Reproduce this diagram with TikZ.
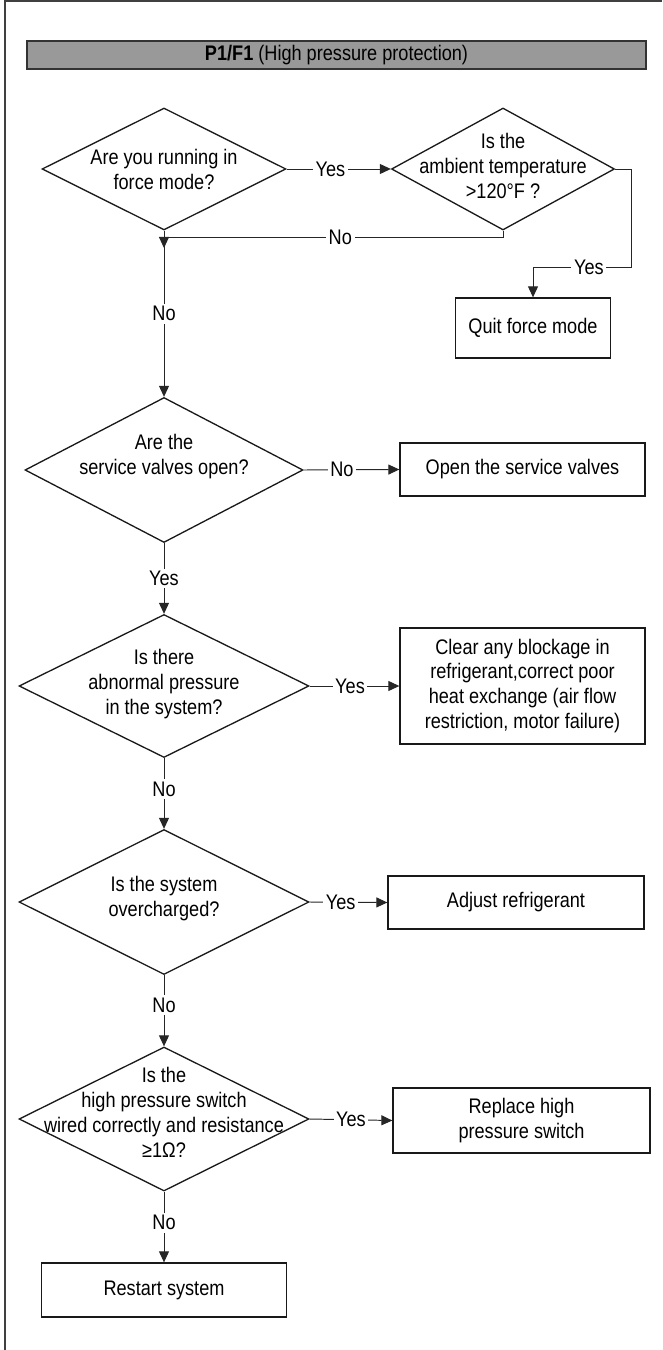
\documentclass[tikz,border=0pt]{standalone}
\usepackage{fontspec}
\setmainfont{Liberation Sans}[FakeStretch=0.86]
\usetikzlibrary{shapes.geometric, arrows.meta, positioning}
\tikzset{
  frm/.style={line width=0.8pt, draw=black!75},
  ttl/.style={rectangle, draw=black!80, fill=black!40, line width=1pt,
    minimum width=12.38cm, minimum height=0.56cm, inner sep=0pt},
  dcs/.style={diamond, draw=black!90, line width=0.75pt, inner sep=0pt},
  txt/.style={align=center, inner sep=0pt},
  prc/.style={rectangle, draw=black!90, line width=0.75pt,
    align=center, inner sep=2pt},
  lbl/.style={fill=white, inner sep=1.5pt},
  arr/.style={-{Triangle[length=0.22cm, width=0.2cm]}, line width=0.55pt, draw=black!85},
}

\begin{document}
\begin{tikzpicture}[every node/.style={font=\fontsize{12}{14.2}\selectfont}]
  \useasboundingbox (0,0) rectangle (13.24,-27.0);

  % Page frame, top and left only
  \draw[frm] (0.10,-27.0) -- (0.10,-0.02) -- (13.24,-0.02);

  % Title bar
  \node[ttl] (title) at (6.73,-1.10) {\textbf{P1/F1} (High pressure protection)};

  % Force mode check
  \node[dcs, minimum width=4.88cm, minimum height=2.44cm] (d1) at (3.28,-3.38) {};
  \node[txt] (t1) at (d1.center) {Are you running in\\force mode?};
  \node[dcs, minimum width=4.46cm, minimum height=2.44cm] (d2) at (10.06,-3.38) {};
  \node[txt] (t2) at ([yshift=0.06cm]d2.center) {Is the\\ambient temperature\\>120°F ?};
  \node[prc, minimum width=3.10cm, minimum height=1.20cm] (quit) at (10.66,-6.56) {Quit force mode};
  \coordinate (c1) at (12.62,-5.34);
  \coordinate (c2) at (3.28,-4.96);

  \draw[arr] (d1.east) -- node[lbl, pos=0.42] (y1) {Yes} (d2.west);
  \draw[arr] (d2.east) -| (c1) -- node[lbl, pos=0.43] (y2) {Yes} (c1 -| quit.north) -- (quit.north);
  \draw[arr] (d2.south) |- node[lbl, pos=0.74] (n1) {No} ([yshift=0.22cm]c2) -- (c2);

  % Service valves
  \node[dcs, minimum width=5.56cm, minimum height=2.90cm] (d3) at (3.28,-9.40) {};
  \node[txt] (t3) at ([yshift=0.26cm]d3.center) {Are the\\service valves open?};
  \node[prc, minimum width=4.90cm, minimum height=1.06cm] (open) at (10.45,-9.39) {Open the service valves};

  \draw[arr] (d1.south) -- node[lbl] (n2) {No} (d3.north);
  \draw[arr] (d3.east) -- node[lbl, pos=0.4] (n3) {No} (open.west);

  % Abnormal pressure
  \node[dcs, minimum width=5.80cm, minimum height=2.86cm] (d4) at (3.28,-13.72) {};
  \node[txt] (t4) at ([yshift=0.04cm]d4.center) {Is there\\abnormal pressure\\in the system?};
  \node[prc, minimum width=4.90cm, minimum height=2.32cm] (clear) at (10.45,-13.72)
       {Clear any blockage in\\refrigerant,correct poor\\heat exchange (air flow\\restriction, motor failure)};

  \draw[arr] (d3.south) -- node[lbl] (y3) {Yes} (d4.north);
  \draw[arr] (d4.east) -- node[lbl, pos=0.45] (y4) {Yes} (clear.west);

  % Overcharge
  \node[dcs, minimum width=5.80cm, minimum height=2.90cm] (d5) at (3.28,-18.04) {};
  \node[txt] (t5) at ([yshift=0.07cm]d5.center) {Is the system\\overcharged?};
  \node[prc, minimum width=5.12cm, minimum height=1.06cm] (adjust) at (10.32,-18.05) {Adjust refrigerant};

  \draw[arr] (d4.south) -- node[lbl, pos=0.44] (n4) {No} (d5.north);
  \draw[arr] (d5.east) -- node[lbl, pos=0.4] (y5) {Yes} (adjust.west);

  % Pressure switch
  \node[dcs, minimum width=5.80cm, minimum height=2.88cm] (d6) at (3.28,-22.38) {};
  \node[txt] (t6) at ([yshift=0.14cm]d6.center)
       {Is the\\high pressure switch\\wired correctly and resistance\\≥1Ω?};
  \node[prc, minimum width=5.14cm, minimum height=1.30cm] (replace) at (10.43,-22.41)
       {Replace high\\pressure switch};
  \node[prc, minimum width=4.90cm, minimum height=1.08cm] (restart) at (3.28,-25.80) {Restart system};

  \draw[arr] (d5.south) -- node[lbl, pos=0.42] (n5) {No} (d6.north);
  \draw[arr] (d6.east) -- node[lbl] (y6) {Yes} (replace.west);
  \draw[arr] (d6.south) -- node[lbl, pos=0.44] (n6) {No} (restart.north);
\end{tikzpicture}
\end{document}
